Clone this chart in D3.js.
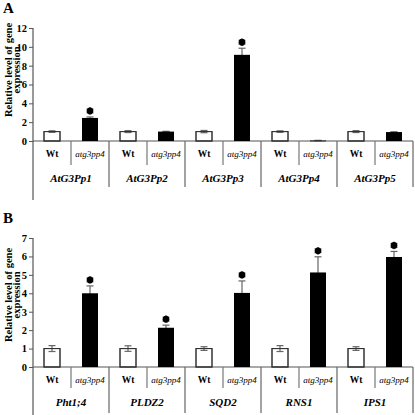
<!DOCTYPE html>
<html><head><meta charset="utf-8">
<script src="https://cdn.jsdelivr.net/npm/d3@7"></script>
<style>
body{margin:0;background:#fff;}
svg{display:block;}
text{font-family:"Liberation Serif","DejaVu Serif",serif;}
</style>
</head><body>
<svg id="c" width="415" height="415"></svg>
<script>
const genotypes = ["Wt", "atg3pp4"];

const genesA = ["AtG3Pp1", "AtG3Pp2", "AtG3Pp3", "AtG3Pp4", "AtG3Pp5"];
const wtA = [1.0, 1.0, 1.0, 1.0, 1.0];
const wtErrA = [0.08, 0.1, 0.12, 0.08, 0.1];
const mutA = [2.45, 1.0, 9.15, 0.05, 0.95];
const mutErrA = [0.1, 0.03, 0.7, 0.02, 0.03];
const sigA = [true, false, true, false, false];
const ticksA = [0, 2, 4, 6, 8, 10, 12];

const genesB = ["Pht1;4", "PLDZ2", "SQD2", "RNS1", "IPS1"];
const wtB = [1.0, 1.0, 1.0, 1.0, 1.0];
const wtErrB = [0.16, 0.15, 0.1, 0.16, 0.1];
const mutB = [4.0, 2.13, 4.02, 5.13, 5.97];
const mutErrB = [0.4, 0.14, 0.65, 0.85, 0.3];
const sigB = [true, true, true, true, true];
const ticksB = [0, 1, 2, 3, 4, 5, 6, 7];

const svg = d3.select("#c");
const lineCol = "#555";

function panel(opt) {
  const g = svg.append("g");
  const y = d3.scaleLinear().domain([0, opt.max]).range([opt.y0, opt.yTop]);
  const x = d3.scaleBand().domain(opt.genes).range([33, 413]);
  const xs = d3.scaleBand().domain(genotypes).range([0, x.bandwidth()]);
  const bw = 16;

  // panel letter
  g.append("text").attr("x", 3).attr("y", opt.yTop - 15)
    .attr("font-size", 15).attr("font-weight", "bold").text(opt.letter);

  // y axis
  const ax = g.append("g").attr("transform", "translate(33,0)")
    .call(d3.axisLeft(y).tickValues(opt.ticks).tickSize(4).tickPadding(2).tickFormat(d3.format("d")));
  ax.select(".domain").remove();
  ax.selectAll(".tick line").attr("stroke", lineCol);
  ax.selectAll(".tick text").attr("font-size", 10.5).attr("font-weight", "bold")
    .attr("font-family", "Liberation Serif, serif").attr("fill", "#000");

  // vertical axis line extending down
  g.append("line").attr("x1", 33).attr("x2", 33).attr("y1", opt.yTop).attr("y2", opt.axisBottom)
    .attr("stroke", lineCol).attr("stroke-width", 1.2);
  // baseline
  g.append("line").attr("x1", 33).attr("x2", 413).attr("y1", y(0)).attr("y2", y(0))
    .attr("stroke", lineCol).attr("stroke-width", 1.2);

  // axis title
  const tc = opt.titleY;
  const t = g.append("text").attr("transform", `translate(12,${tc}) rotate(-90)`)
    .attr("text-anchor", "middle").attr("font-size", 10.5).attr("font-weight", "bold");
  t.append("tspan").attr("x", 0).attr("dy", 0).text("Relative level of gene");
  t.append("tspan").attr("x", 0).attr("dy", 8).text("expression");

  opt.genes.forEach((gene, i) => {
    const gx = x(gene);
    const vals = [opt.wt[i], opt.mut[i]];
    const errs = [opt.wtErr[i], opt.mutErr[i]];
    genotypes.forEach((gt, j) => {
      const cx = gx + xs(gt) + xs.bandwidth() / 2;
      const v = vals[j], e = errs[j];
      // error bar
      g.append("line").attr("x1", cx).attr("x2", cx).attr("y1", y(v - e)).attr("y2", y(v + e))
        .attr("stroke", "#666").attr("stroke-width", 1.2);
      [v - e, v + e].forEach(ev => {
        g.append("line").attr("x1", cx - 3.5).attr("x2", cx + 3.5).attr("y1", y(ev)).attr("y2", y(ev))
          .attr("stroke", "#666").attr("stroke-width", 1.2);
      });
      g.append("rect").attr("x", cx - bw / 2).attr("width", bw)
        .attr("y", y(v)).attr("height", Math.max(0.8, y(0) - y(v)))
        .attr("fill", j === 0 ? "none" : "#000")
        .attr("stroke", j === 0 ? "#333" : "none").attr("stroke-width", 1);
      if (j === 0) {
        g.append("rect").attr("x", cx - bw / 2).attr("width", bw)
          .attr("y", y(v)).attr("height", y(0) - y(v)).attr("fill", "none")
          .attr("stroke", "#333").attr("stroke-width", 1);
      }
      if (j === 1 && opt.sig[i]) {
        g.append("path").attr("transform", `translate(${cx},${y(v + e) - 6})`)
          .attr("d", d3.symbol(d3.symbolCircle, 36)()).attr("fill", "#000");
        g.append("path").attr("transform", `translate(${cx},${y(v + e) - 6})`)
          .attr("d", d3.symbol(d3.symbolAsterisk, 40)()).attr("stroke", "#000").attr("stroke-width", 1).attr("fill", "none");
      }
      // genotype label
      g.append("text").attr("x", cx).attr("y", y(0) + 16).attr("text-anchor", "middle")
        .attr("font-size", gt === "Wt" ? 9.5 : 9).attr("font-weight", gt === "Wt" ? "bold" : "normal")
        .attr("font-style", gt === "Wt" ? "normal" : "italic").text(gt);
    });
    // separators
    const mid = gx + x.bandwidth() / 2;
    g.append("line").attr("x1", mid).attr("x2", mid).attr("y1", y(0)).attr("y2", y(0) + opt.subSep)
      .attr("stroke", "#777").attr("stroke-width", 1.2);
    const end = gx + x.bandwidth();
    g.append("line").attr("x1", end).attr("x2", end).attr("y1", y(0)).attr("y2", y(0) + opt.grpSep)
      .attr("stroke", "#666").attr("stroke-width", 1.2);
    g.append("text").attr("x", mid).attr("y", y(0) + opt.grpLabel).attr("text-anchor", "middle")
      .attr("font-size", 11).attr("font-weight", "bold").attr("font-style", "italic").text(gene);
  });
}

panel({letter: "A", genes: genesA, wt: wtA, wtErr: wtErrA, mut: mutA, mutErr: mutErrA, sig: sigA,
  ticks: ticksA, max: 12, y0: 141, yTop: 28, axisBottom: 200, titleY: 70, subSep: 24, grpSep: 46, grpLabel: 41});
panel({letter: "B", genes: genesB, wt: wtB, wtErr: wtErrB, mut: mutB, mutErr: mutErrB, sig: sigB,
  ticks: ticksB, max: 7, y0: 367, yTop: 238, axisBottom: 415, titleY: 295, subSep: 21, grpSep: 46, grpLabel: 39});
</script>
</body></html>
